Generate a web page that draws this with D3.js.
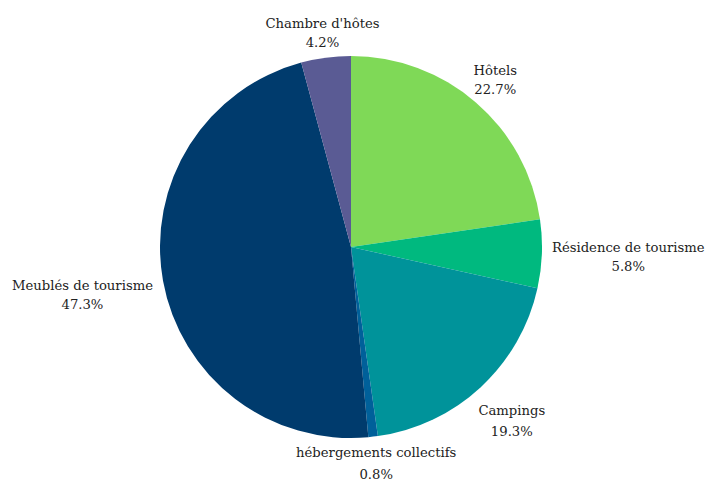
<!DOCTYPE html>
<html><head><meta charset="utf-8">
<script src="https://cdn.jsdelivr.net/npm/d3@7"></script>
<style>body{margin:0;background:#fff}svg{display:block}</style>
</head><body>
<svg id="c" width="712" height="481"></svg>
<script>
const categories = ["Hôtels","Résidence de tourisme","Campings","hébergements collectifs","Meublés de tourisme","Chambre d'hôtes"];
const values = [22.7, 5.8, 19.3, 0.8, 47.3, 4.2];
const colors = ["#7fd957","#00b97f","#00939a","#00609a","#003b6d","#5a5b94"];

const W = 712, H = 481, cx = 351, cy = 247, R = 191;
const svg = d3.select("#c");
const g = svg.append("g").attr("transform", `translate(${cx},${cy})`);
const data = categories.map((c,i)=>({name:c, value:values[i], color:colors[i]}));
const pie = d3.pie().value(d=>d.value).sort(null);
const arcs = pie(data);
const arc = d3.arc().innerRadius(0).outerRadius(R);
g.selectAll("path").data(arcs).enter().append("path")
  .attr("d", arc).attr("fill", d=>d.data.color);

const fontSize = 13.2, gap = 10;
arcs.forEach(a=>{
  const ang = (a.startAngle + a.endAngle)/2;
  const s = Math.sin(ang), c = Math.cos(ang);
  const lh = 19 + 3*Math.max(0, -c);
  const t = g.append("text")
    .attr("text-anchor","middle")
    .style("font-family","'DejaVu Serif', serif")
    .style("font-size", fontSize+"px")
    .attr("fill","#222");
  t.append("tspan").attr("x",0).attr("dy",0).text(a.data.name);
  t.append("tspan").attr("x",0).attr("dy",lh).text(d3.format(".1f")(a.data.value)+"%");
  const bb = t.node().getBBox();
  const hw = bb.width/2, hh = (bb.height-4)/2;
  const bcx = bb.x + bb.width/2, bcy = bb.y + bb.height/2;
  const ext = Math.min(Math.abs(s) > 1e-6 ? hw/Math.abs(s) : Infinity,
                       Math.abs(c) > 1e-6 ? hh/Math.abs(c) : Infinity);
  const q = Math.max(0, s) * Math.max(0, -c);
  const r = R + gap + ext + 56*q*q;
  const tx = r*s - bcx, ty = -r*c - bcy;
  t.attr("transform", `translate(${tx},${ty})`);
});
</script>
</body></html>
